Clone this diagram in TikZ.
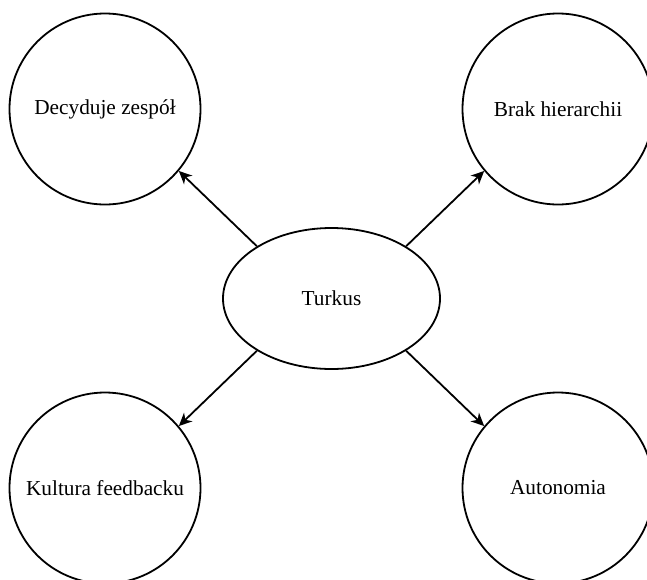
\documentclass[tikz,border=0pt]{standalone}
\usepackage{fontspec}
\setmainfont{Liberation Serif}
\usetikzlibrary{shapes.geometric,arrows.meta}
\begin{document}
\begin{tikzpicture}[x=1pt,y=-1pt,
  lbl/.style={font=\fontsize{21.3}{25}\selectfont},
  circ/.style={lbl,draw,circle,line width=1.8pt,minimum size=191pt,inner sep=0pt},
  ell/.style={lbl,draw,ellipse,line width=1.8pt,minimum width=217pt,minimum height=141pt,inner sep=0pt},
  arr/.style={line width=1.8pt,-{Stealth[length=13pt,width=12pt,inset=4pt]}}]
\useasboundingbox (0,0) rectangle (647,579);
\begin{scope}
\clip (0,0) rectangle (647,579);
\node[ell] (t) at (331.5,298.5) {Turkus};
\node[circ] (dz) at (105,109) {Decyduje zespół};
\node[circ] (bh) at (558,109) {Brak hierarchii};
\node[circ] (kf) at (105,488) {Kultura feedbacku};
\node[circ] (au) at (558,488) {Autonomia};
\draw[arr] (t.145) -- (dz.320);
\draw[arr] (t.35) -- (bh.220);
\draw[arr] (t.215) -- (kf.40);
\draw[arr] (t.325) -- (au.140);
\end{scope}
\end{tikzpicture}
\end{document}
